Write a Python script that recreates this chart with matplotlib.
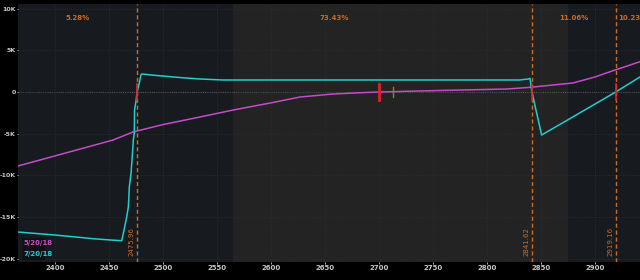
import matplotlib
matplotlib.use("Agg")
from matplotlib import pyplot as plt
import matplotlib.transforms as mtransforms
from matplotlib import font_manager

# expiration curve (7/20/18), P/L in dollars
exp_x = [2365.7, 2400, 2426, 2435, 2451, 2461.8, 2463.9, 2466.4, 2467.9, 2468.8,
         2470.4, 2471.9, 2472.5, 2473.4, 2473.6, 2475.1, 2475.96, 2478.2, 2479.6,
         2480.3, 2492, 2518, 2534, 2555, 2700, 2830, 2838.2, 2839.8, 2841.62,
         2850.6, 2880, 2919.16, 2941.7]
exp_y = [-16770, -17130, -17450, -17570, -17720, -17810, -16530, -14930, -13740, -11340,
         -9740, -6950, -5750, -4910, -2160, -1000, 0, 1200, 2040,
         2160, 2000, 1710, 1560, 1440, 1440, 1440, 1550, 1640, 0,
         -5150, -2950, 0, 1800]

# T+0 curve (5/20/18)
t0_x = [2365.7, 2410, 2453.7, 2472.2, 2500, 2534.3, 2564.8, 2600, 2626.9, 2657.4,
        2680, 2700, 2756.5, 2818.5, 2839.8, 2879.6, 2900, 2918.5, 2941.7]
t0_y = [-8860, -7300, -5750, -4790, -3900, -2990, -2160, -1300, -600, -240,
        -100, 0, 180, 360, 560, 1080, 1800, 2630, 3630]

breakevens = [2475.96, 2841.62, 2919.16]
price_now = 2700
# probability zones
zone_edges = [2365.7, 2475.96, 2841.62, 2919.16, 2951]
zone_pcts = ["5.28%", "73.43%", "11.06%", "10.23%"]
# shaded background band
band_lo, band_hi = 2565, 2875

yticks = [10000, 5000, 0, -5000, -10000, -15000, -20000]
ylabels = ["10K", "5K", "0", "-5K", "-10K", "-15K", "-20K"]
xticks = list(range(2400, 2901, 50))

cyan = "#1fcfcf"
magenta = "#c64bc9"
orange = "#cf6a1e"
tick_col = "#c8c8c8"

names = {f.name for f in font_manager.fontManager.ttflist}
fam = "Liberation Sans Narrow" if "Liberation Sans Narrow" in names else "DejaVu Sans"
plt.rcParams["font.family"] = [fam, "DejaVu Sans"]
fs = 6 if fam != "DejaVu Sans" else 5

fig = plt.figure(figsize=(6.4, 2.8), dpi=100, facecolor="black")
ax = fig.add_axes([18 / 640, 18 / 280, 622 / 640, 258 / 280])
ax.set_facecolor("#171b1f")
ax.set_xlim(2365.7, 2941.7)
ax.set_ylim(-20360, 10540)

ax.axvspan(band_lo, band_hi, color="#232323", zorder=0, lw=0)
ax.grid(True, color="#2e2e2e", linestyle=":", linewidth=0.6, zorder=0.5)
ax.axhline(0, color="#5a5a5a", linestyle=(0, (1, 1)), linewidth=0.8, zorder=1)

for be in breakevens:
    ax.axvline(be, color=orange, linestyle=(0, (3, 2)), linewidth=1, zorder=2)

ax.plot(t0_x, t0_y, color=magenta, linewidth=1.1, zorder=3)
ax.plot(exp_x, exp_y, color=cyan, linewidth=1.1, zorder=4)

# breakeven / current price markers
for be in breakevens:
    ax.plot([be, be], [-1000, 1000], color="#e0202a", linewidth=1.2, zorder=5)
ax.plot([price_now, price_now], [-960, 960], color="#e0202a", linewidth=2, zorder=5)
ax.plot([price_now + 13.2, price_now + 13.2], [-600, 600], color="#8c7a40", linewidth=1, zorder=5)

trans = mtransforms.blended_transform_factory(ax.transData, ax.transAxes)
for i, pct in enumerate(zone_pcts):
    cx = (zone_edges[i] + zone_edges[i + 1]) / 2
    ax.text(cx, 0.946, pct, color=orange, fontsize=fs, fontweight="bold",
            ha="center", va="center", transform=trans, clip_on=False)

for be in breakevens:
    ax.text(be - 2.2, 0.022, "%.2f" % be, color=orange, fontsize=fs, rotation=90,
            ha="right", va="bottom", transform=trans)

# legend box
ax.add_patch(plt.Rectangle((0.0064, 0.008), 0.037, 0.085, transform=ax.transAxes,
                           facecolor="#0f1113", edgecolor="none", zorder=6))
ax.text(0.009, 0.073, "5/20/18", color=magenta, fontsize=fs, fontweight="bold",
        transform=ax.transAxes, va="center", ha="left", zorder=7)
ax.text(0.009, 0.030, "7/20/18", color=cyan, fontsize=fs, fontweight="bold",
        transform=ax.transAxes, va="center", ha="left", zorder=7)

ax.set_yticks(yticks)
ax.set_yticklabels(ylabels)
ax.set_xticks(xticks)
ax.tick_params(axis="x", colors=tick_col, labelsize=fs, length=1.5, width=0.6, pad=1)
ax.tick_params(axis="y", colors=tick_col, labelsize=fs - 0.5, length=1, width=0.6, pad=0.8)
for lbl in ax.get_xticklabels() + ax.get_yticklabels():
    lbl.set_fontweight("bold")
for s in ax.spines.values():
    s.set_visible(False)

fig.savefig("out.png", dpi=100, facecolor="black")
